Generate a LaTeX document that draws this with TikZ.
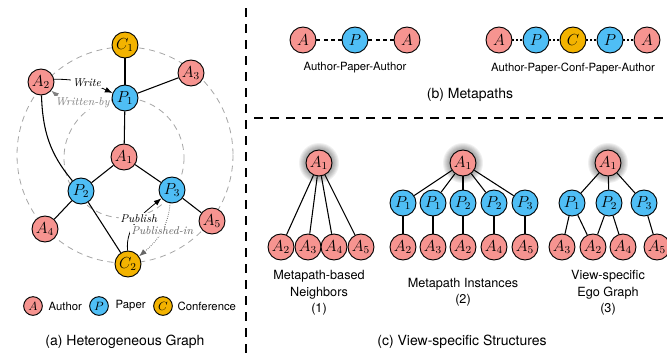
\documentclass[tikz,border=0pt]{standalone}
\usepackage{fontspec}
\setsansfont{TeX Gyre Heros}
\usetikzlibrary{arrows.meta}
\definecolor{authorc}{HTML}{F69490}
\definecolor{paperc}{HTML}{4FBEF5}
\definecolor{confc}{HTML}{F3B300}
\tikzset{
  vtx/.style={circle, draw=black, line width=0.7pt, minimum size=19.5pt, inner sep=0pt, font=\fontsize{12}{12}\selectfont},
  author/.style={vtx, fill=authorc},
  paper/.style={vtx, fill=paperc},
  conf/.style={vtx, fill=confc},
  smallvtx/.style={minimum size=14pt, font=\fontsize{9}{9}\selectfont},
  lbl/.style={font=\sffamily\fontsize{8.5}{10}\selectfont},
  captext/.style={font=\sffamily\fontsize{10.5}{12}\selectfont},
  sub/.style={font=\sffamily\fontsize{9.5}{12.4}\selectfont, align=center},
  rel/.style={font=\itshape\fontsize{8.5}{9}\selectfont, inner sep=1pt, fill=white},
  ring/.style={gray!70, dash pattern=on 4.5pt off 3.5pt, line width=0.6pt},
  edge/.style={line width=0.8pt},
  sep/.style={line width=0.9pt, dash pattern=on 7pt off 5pt}
}
\newcommand{\glow}[1]{\foreach \r in {20,19,...,13}{\fill[black, opacity=0.06] (#1) circle (\r);}}
\begin{document}
\begin{tikzpicture}[x=0.75pt, y=-0.75pt, >=Latex]
\useasboundingbox (0,0) rectangle (667,354);

% separators
\draw[sep] (246,8) -- (246,354);
\draw[sep] (254,118) -- (667,118);

% (a) heterogeneous graph
\draw[ring] (125,155) circle (108);
\draw[ring] (124,158) circle (60);

\node[conf] (c1) at (125,45) {$C_1$};
\node[author] (a2) at (41,82) {$A_2$};
\node[author] (a3) at (191,73) {$A_3$};
\node[paper] (p1) at (125,98) {$P_1$};
\node[author] (a1) at (124,157) {$A_1$};
\node[paper] (p2) at (81,191) {$P_2$};
\node[paper] (p3) at (172,190) {$P_3$};
\node[author] (a4) at (45,229) {$A_4$};
\node[author] (a5) at (212,221) {$A_5$};
\node[conf] (c2) at (128,264) {$C_2$};

\draw[edge] (c1) -- (p1);
\draw[edge] (p1) -- (a3);
\draw[edge] (p1) -- (a1);
\draw[edge] (a1) -- (p2);
\draw[edge] (a1) -- (p3);
\draw[edge] (p2) -- (a4);
\draw[edge] (p2) -- (c2);
\draw[edge] (p3) -- (a5);
\draw[edge] (a2) to[out=-88,in=130] (p2);

\draw[->, line width=0.6pt] (a2.12) to[out=0,in=155] node[rel, pos=0.55] {Write} (p1.158);
\draw[->, gray, densely dotted, line width=0.6pt] (p1.192) to[out=185,in=-40] node[rel, text=gray, pos=0.45] {Written-by} (a2.-40);
\draw[->, line width=0.6pt] (c2.92) to[out=95,in=220] node[rel, pos=0.55] {Publish} (p3.218);
\draw[->, gray!80!black, densely dotted, line width=0.6pt] (p3.262) to[out=265,in=40] node[rel, pos=0.45] {Published-in} (c2.35);

% legend
\node[author, smallvtx] (la) at (33,306) {$A$};
\node[lbl, anchor=west] (lta) at (44,306) {Author};
\node[paper, smallvtx] (lp) at (99,306) {$P$};
\node[lbl, anchor=west] (ltp) at (111,306) {Paper};
\node[conf, smallvtx] (lc) at (163,306) {$C$};
\node[lbl, anchor=west] (ltc) at (173,306) {Conference};
\node[captext] (capa) at (125,342) {(a) Heterogeneous Graph};

% (b) metapaths
\node[author] (m1) at (303,40) {$A$};
\node[paper] (m2) at (355,40) {$P$};
\node[author] (m3) at (407,40) {$A$};
\draw[line width=1pt, dash pattern=on 3pt off 2.5pt] (m1) -- (m2) -- (m3);
\node[lbl] (mpa) at (355,68) {Author-Paper-Author};

\node[author] (n1) at (499,40) {$A$};
\node[paper] (n2) at (536,40) {$P$};
\node[conf] (n3) at (573,40) {$C$};
\node[paper] (n4) at (610,40) {$P$};
\node[author] (n5) at (647,40) {$A$};
\draw[line width=1pt, dotted] (n1) -- (n2) -- (n3) -- (n4) -- (n5);
\node[lbl] (mpcpa) at (573,68) {Author-Paper-Conf-Paper-Author};
\node[captext] (capb) at (470,95) {(b) Metapaths};

% (c) view-specific structures
% (1) neighbors
\glow{319,163}
\node[author] (s1) at (319,163) {$A_1$};
\foreach \i/\x in {2/281,3/308,4/334,5/361}
{
    \node[author] (s1a\i) at (\x,247) {$A_{\i}$};
    \draw[edge] (s1) -- (s1a\i);
}
\node[sub] (sub1) at (319,293) {Metapath-based\\Neighbors\\(1)};

% (2) instances
\glow{463,163}
\node[author] (s2) at (463,163) {$A_1$};
\foreach \k/\x/\p/\a in {1/403/1/2,2/433/1/3,3/463/2/2,4/494/2/4,5/525/3/5}
{
    \node[paper] (s2p\k) at (\x,203) {$P_{\p}$};
    \node[author] (s2a\k) at (\x,247) {$A_{\a}$};
    \draw[edge] (s2) -- (s2p\k);
    \draw[edge] (s2p\k) -- (s2a\k);
}
\node[sub] (sub2) at (463,292) {Metapath Instances\\(2)};

% (3) ego graph
\glow{608,163}
\node[author] (s3) at (608,163) {$A_1$};
\foreach \i/\x in {1/572,2/609,3/644}
{
    \node[paper] (s3p\i) at (\x,203) {$P_{\i}$};
    \draw[edge] (s3) -- (s3p\i);
}
\node[author] (s3a3) at (562,247) {$A_3$};
\node[author] (s3a2) at (593,247) {$A_2$};
\node[author] (s3a4) at (623,247) {$A_4$};
\node[author] (s3a5) at (657,247) {$A_5$};
\draw[edge] (s3p1) -- (s3a3);
\draw[edge] (s3p1) -- (s3a2);
\draw[edge] (s3p2) -- (s3a2);
\draw[edge] (s3p2) -- (s3a4);
\draw[edge] (s3p3) -- (s3a5);
\node[sub] (sub3) at (608,293) {View-specific\\Ego Graph\\(3)};

\node[captext] (capc) at (462,342) {(c) View-specific Structures};
\end{tikzpicture}
\end{document}
